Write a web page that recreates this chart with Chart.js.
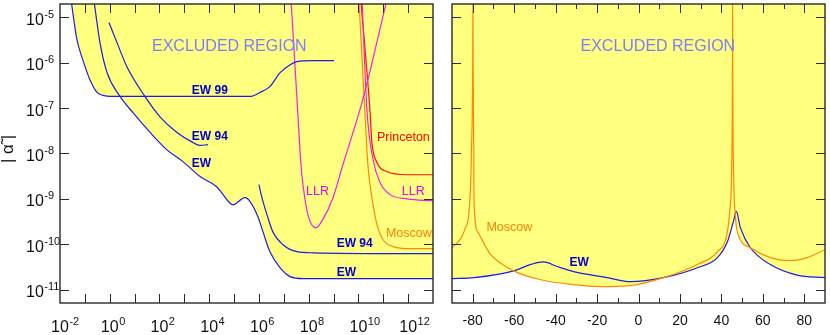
<!DOCTYPE html>
<html>
<head>
<meta charset="utf-8">
<script src="https://cdn.jsdelivr.net/npm/chart.js@4"></script>
<style>
  html, body { margin: 0; padding: 0; background: #fff; overflow: hidden; }
  #wrap { position: relative; width: 830px; height: 335px; }
  #left { position: absolute; left: 0; top: 0; }
  #right { position: absolute; left: 440px; top: 0; }
</style>
</head>
<body>
<div id="wrap">
  <canvas id="left" width="440" height="335"></canvas>
  <canvas id="right" width="390" height="335"></canvas>
</div>
<script>
// axes
const yMin = 5.1e-12, yMax = 1.95e-5;
const yTickExps = [-11, -10, -9, -8, -7, -6, -5];
const leftXMin = 1e-2, leftXMax = 1e13;
const leftXTickExps = [-1, 0, 1, 2, 3, 4, 5, 6, 7, 8, 9, 10, 11, 12];
const leftXLabelExps = [-2, 0, 2, 4, 6, 8, 10, 12];
const rightXMin = -90, rightXMax = 90;
const rightXTicks = [-80, -70, -60, -50, -40, -30, -20, -10, 0, 10, 20, 30, 40, 50, 60, 70, 80];
const rightXLabels = [-80, -60, -40, -20, 0, 20, 40, 60, 80];

// left panel: bounds vs lambda [m]
const ew99X = [0.0275, 0.048, 0.083, 0.16, 0.31, 0.5, 0.78, 1.5, 4.4e5, 1.1e6, 2.75e6, 7.1e6, 1.8e7, 3.4e7, 1.5e8, 1.05e9];
const ew99Y = [2.5e-5, 3.2e-6, 1.15e-6, 4.2e-7, 2.2e-7, 1.92e-7, 1.83e-7, 1.8e-7, 1.8e-7, 2.2e-7, 2.95e-7, 6.0e-7, 9.0e-7, 1.05e-6, 1.1e-6, 1.1e-6];

const ewLeftX = [0.23, 0.405, 0.78, 2.6, 8.6, 42, 200, 880, 4.3e3, 2.0e4, 3.6e4, 9.0e4, 2.75e5, 4.4e5, 9.1e5, 1.45e6, 2.75e6, 7.0e6, 1.8e7, 5.9e7, 1e13];
const ewLeftY = [2.4e-5, 2.75e-6, 6.0e-7, 1.8e-7, 7.9e-8, 2.9e-8, 1.2e-8, 6.6e-9, 3.1e-9, 1.85e-9, 1.24e-9, 7.4e-10, 1.06e-9, 8.7e-10, 4.05e-10, 1.9e-10, 6.9e-11, 3.05e-11, 1.94e-11, 1.75e-11, 1.75e-11];

const ew94aX = [0.93, 1.96, 4.9, 26, 105, 506, 2.0e3, 4.3e3, 8.9e3];
const ew94aY = [7.6e-6, 2.75e-6, 8.1e-7, 1.8e-7, 6.4e-8, 2.9e-8, 1.8e-8, 1.5e-8, 1.56e-8];

const ew94bX = [1.0e6, 1.32e6, 2.1e6, 3.6e6, 9.3e6, 3.4e7, 1.5e8, 1e13];
const ew94bY = [2.05e-9, 1.06e-9, 4.5e-10, 1.9e-10, 9.8e-11, 6.9e-11, 6.5e-11, 6.2e-11];

const llrVX = [1.95e7, 3.4e7, 4.9e7, 5.9e7, 9.3e7, 1.95e8, 3.7e8, 9.5e8, 2.4e9, 1.5e10, 1.4e11];
const llrVY = [2.4e-5, 1.53e-7, 5.7e-9, 2.05e-9, 4.5e-10, 2.3e-10, 3.5e-10, 1.06e-9, 5.7e-9, 1.53e-7, 2.4e-5];

const llrX = [1.4e10, 2.2e10, 3.9e10, 7.4e10, 1.9e11, 9e11, 1e13];
const llrY = [2.4e-5, 9.2e-8, 7.3e-9, 2.3e-9, 1.24e-9, 1.0e-9, 9.1e-10];

const princetonX = [1.25e10, 2.9e10, 3.5e10, 5.6e10, 1.4e11, 9e11, 1e13];
const princetonY = [2.4e-5, 9.2e-8, 1.73e-8, 6.3e-9, 4.0e-9, 3.4e-9, 3.4e-9];

const moscowLX = [1.05e10, 1.8e10, 2.4e10, 3.5e10, 5.6e10, 9.8e10, 2.5e11, 1.2e12, 1e13];
const moscowLY = [2.4e-5, 9.2e-8, 5.7e-9, 1.06e-9, 2.7e-10, 1.26e-10, 8.9e-11, 8.0e-11, 8.0e-11];

// right panel: bounds vs angle [deg]
const moscowRX = [-90, -86, -84.2, -81.3, -80.6, -80.0, -79.9, -79.8, -79.5, -79.4, -77.7, -74, -71.3, -60.2, -47.2, -31.3, -18.3, -3.9, 12.0, 28.4, 38.1, 42.9, 44.3, 44.8, 45.35, 45.4, 45.45, 46.0, 46.7, 47.7, 54.0, 63.6, 73.3, 81.4, 90];
const moscowRY = [8.4e-11, 1.3e-10, 1.9e-10, 1.06e-9, 1.2e-8, 1e-6, 2.5e-5, 1e-6, 1.2e-8, 1.06e-9, 1.9e-10, 9.3e-11, 5.9e-11, 2.6e-11, 1.66e-11, 1.29e-11, 1.17e-11, 1.23e-11, 1.84e-11, 3.6e-11, 6.9e-11, 1.9e-10, 7.4e-10, 2.3e-9, 1e-6, 2.5e-5, 1e-6, 2.3e-9, 4.5e-10, 1.9e-10, 8.4e-11, 5.1e-11, 4.4e-11, 5.1e-11, 7.6e-11];

const ewRX = [-90, -79.5, -60.2, -52, -45.8, -39, -31.3, -14.9, -3.9, 12.0, 28.4, 38.1, 42.9, 45.8, 47.2, 49.2, 54.0, 63.6, 76.6, 90];
const ewRY = [1.75e-11, 1.84e-11, 2.6e-11, 3.6e-11, 4.1e-11, 3.2e-11, 2.5e-11, 1.84e-11, 1.5e-11, 1.84e-11, 3.05e-11, 5.1e-11, 1.14e-10, 3.15e-10, 5.3e-10, 2.3e-10, 8.4e-11, 3.6e-11, 2.1e-11, 1.84e-11];

// colours
const YELLOW = 'rgb(255,255,128)';
const BLUE = '#1c1ce6';
const PINK = '#f020f0';
const RED = '#ff1010';
const ORANGE = '#ff8a00';
const FONT = '"Liberation Sans", Arial, sans-serif';

// text labels (data coordinates)
const leftNotes = [
  { text: 'EXCLUDED REGION', x: 50, y: 1.83e-6, color: '#7c7cff', font: '16px ' + FONT },
  { text: 'EW 99', x: 2.0e3, y: 2.0e-7, color: '#0000d0', font: 'bold 12px ' + FONT },
  { text: 'EW 94', x: 2.0e3, y: 1.94e-8, color: '#0000d0', font: 'bold 12px ' + FONT },
  { text: 'EW', x: 2.0e3, y: 5.1e-9, color: '#0000d0', font: 'bold 12px ' + FONT },
  { text: 'LLR', x: 7.8e7, y: 1.24e-9, color: '#ee00ee', font: '12.5px ' + FONT },
  { text: 'Princeton', x: 5.6e10, y: 1.85e-8, color: '#ff0000', font: '12.5px ' + FONT },
  { text: 'LLR', x: 5.6e11, y: 1.24e-9, color: '#ee00ee', font: '12.5px ' + FONT },
  { text: 'Moscow', x: 1.28e11, y: 1.42e-10, color: '#ff7f00', font: '12.5px ' + FONT },
  { text: 'EW 94', x: 1.34e9, y: 8.9e-11, color: '#0000d0', font: 'bold 12px ' + FONT },
  { text: 'EW', x: 1.34e9, y: 1.96e-11, color: '#0000d0', font: 'bold 12px ' + FONT }
];
const rightNotes = [
  { text: 'EXCLUDED REGION', x: -28, y: 1.83e-6, color: '#7c7cff', font: '16px ' + FONT },
  { text: 'Moscow', x: -73.4, y: 1.92e-10, color: '#ff7f00', font: '12.5px ' + FONT },
  { text: 'EW', x: -33.3, y: 3.27e-11, color: '#0000d0', font: 'bold 12px ' + FONT }
];

function pts(xs, ys) {
  return xs.map((x, i) => ({ x: x, y: ys[i] }));
}

function curve(xs, ys, color) {
  return {
    data: pts(xs, ys),
    borderColor: color,
    borderWidth: 1.2,
    backgroundColor: YELLOW,
    fill: 'end',
    pointRadius: 0,
    cubicInterpolationMode: 'monotone'
  };
}

// ticks pointing inwards, frame, tick labels
function framePlugin(opt) {
  return {
    id: 'frame',
    afterDatasetsDraw(chart) {
      const ctx = chart.ctx, a = chart.chartArea;
      const sx = chart.scales.x, sy = chart.scales.y;
      ctx.save();
      ctx.strokeStyle = '#2a2a2a';
      ctx.lineWidth = 1;
      ctx.beginPath();
      opt.xTicks.forEach(t => {
        const px = Math.round(sx.getPixelForValue(t.v)) + 0.5;
        ctx.moveTo(px, a.bottom); ctx.lineTo(px, a.bottom - t.len);
        ctx.moveTo(px, a.top); ctx.lineTo(px, a.top + t.len);
      });
      yTickExps.forEach(e => {
        const py = Math.round(sy.getPixelForValue(Math.pow(10, e))) + 0.5;
        ctx.moveTo(a.left, py); ctx.lineTo(a.left + 9, py);
        ctx.moveTo(a.right, py); ctx.lineTo(a.right - 9, py);
      });
      ctx.stroke();
      ctx.lineWidth = 1.4;
      ctx.strokeRect(a.left, a.top, a.right - a.left, a.bottom - a.top);

      ctx.fillStyle = '#111';
      ctx.textBaseline = 'alphabetic';
      opt.xLabels.forEach(l => {
        const px = sx.getPixelForValue(l.v);
        if (l.exp !== undefined) {
          ctx.font = '16px ' + FONT;
          const wb = ctx.measureText('10').width;
          ctx.textAlign = 'left';
          ctx.fillText('10', px - wb / 2, a.bottom + 29);
          ctx.font = '11px ' + FONT;
          ctx.fillText(l.exp, px + wb / 2 + 0.5, a.bottom + 22);
        } else {
          ctx.font = '14px ' + FONT;
          ctx.textAlign = 'center';
          ctx.fillText(l.text, px, a.bottom + 22);
        }
      });
      if (opt.yLabels) {
        yTickExps.forEach(e => {
          const py = sy.getPixelForValue(Math.pow(10, e));
          ctx.textAlign = 'left';
          ctx.font = '16px ' + FONT;
          const wb = ctx.measureText('10').width;
          ctx.fillText('10', 26, py + 7.5);
          ctx.font = '11px ' + FONT;
          ctx.fillText(String(e), 26 + wb + 0.5, py + 0.5);
        });
        // axis title |alpha~|
        ctx.save();
        ctx.translate(13, 149);
        ctx.rotate(-Math.PI / 2);
        ctx.textAlign = 'center';
        ctx.font = '17px ' + FONT;
        ctx.fillText('| \u03b1\u0303 |', 0, 0);
        ctx.restore();
      }
      opt.notes.forEach(n => {
        ctx.font = n.font;
        ctx.fillStyle = n.color;
        ctx.textAlign = 'left';
        ctx.fillText(n.text, sx.getPixelForValue(n.x), sy.getPixelForValue(n.y));
      });
      ctx.restore();
    }
  };
}

function baseOptions(xScale, yWidth, padRight) {
  return {
    responsive: false,
    animation: false,
    devicePixelRatio: 1,
    layout: { padding: { top: 4, right: padRight, left: 0, bottom: 0 } },
    plugins: {
      legend: { display: false },
      tooltip: { enabled: false },
      filler: { drawTime: 'beforeDatasetsDraw' }
    },
    scales: {
      x: Object.assign(xScale, {
        ticks: { display: false },
        grid: { display: false },
        border: { display: false },
        afterFit: s => { s.height = 32; }
      }),
      y: {
        type: 'logarithmic', min: yMin, max: yMax,
        ticks: { display: false },
        grid: { display: false },
        border: { display: false },
        afterFit: s => { s.width = yWidth; }
      }
    }
  };
}

new Chart(document.getElementById('left'), {
  type: 'line',
  data: {
    datasets: [
      curve(ew99X, ew99Y, BLUE),
      curve(ewLeftX, ewLeftY, BLUE),
      curve(ew94aX, ew94aY, BLUE),
      curve(ew94bX, ew94bY, BLUE),
      curve(llrVX, llrVY, PINK),
      curve(llrX, llrY, PINK),
      curve(princetonX, princetonY, RED),
      curve(moscowLX, moscowLY, ORANGE)
    ]
  },
  options: baseOptions({ type: 'logarithmic', min: leftXMin, max: leftXMax }, 60, 7),
  plugins: [framePlugin({
    xTicks: leftXTickExps.map(e => ({ v: Math.pow(10, e), len: 9 })),
    xLabels: leftXLabelExps.map(e => ({ v: Math.pow(10, e), exp: String(e) })),
    yLabels: true,
    notes: leftNotes
  })]
});

new Chart(document.getElementById('right'), {
  type: 'line',
  data: {
    datasets: [
      curve(moscowRX, moscowRY, ORANGE),
      curve(ewRX, ewRY, BLUE)
    ]
  },
  options: baseOptions({ type: 'linear', min: rightXMin, max: rightXMax }, 12, 5),
  plugins: [framePlugin({
    xTicks: rightXTicks.map(v => ({ v: v, len: v % 20 === 0 ? 9 : 5 })),
    xLabels: rightXLabels.map(v => ({ v: v, text: String(v) })),
    yLabels: false,
    notes: rightNotes
  })]
});
</script>
</body>
</html>
